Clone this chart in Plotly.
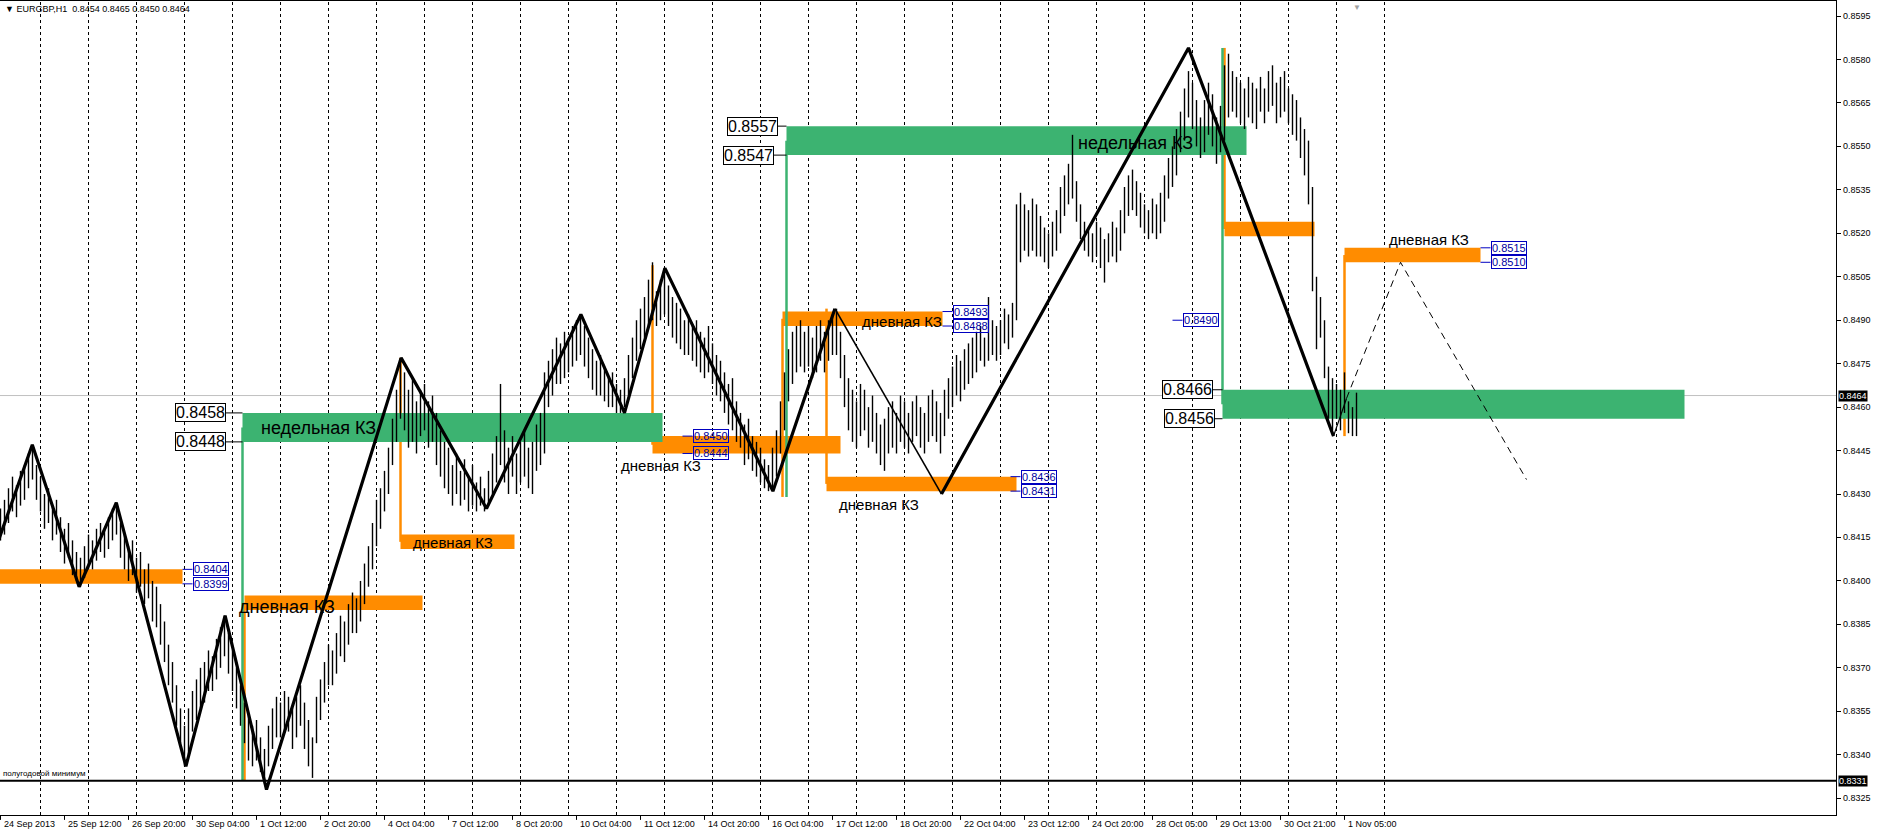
import plotly.graph_objects as go

# ---------------- DATA ----------------
# EURGBP H1, one value pair for every 2nd hourly bar (prices in pips: 8425 -> 0.8425)
BAR_STEP = 2
bar_high_pips = [
    8425, 8428, 8432, 8436, 8433, 8438, 8440, 8444, 8447, 8440,
    8436, 8430, 8432, 8426, 8428, 8422, 8418, 8420, 8414, 8410,
    8408, 8412, 8416, 8414, 8418, 8420, 8418, 8422, 8425, 8427,
    8420, 8416, 8412, 8414, 8408, 8410, 8404, 8406, 8400, 8398,
    8392, 8386, 8378, 8372, 8364, 8356, 8350, 8356, 8362, 8366,
    8370, 8372, 8376, 8374, 8380, 8384, 8388, 8382, 8376, 8370,
    8364, 8358, 8354, 8350, 8352, 8346, 8342, 8350, 8356, 8360,
    8358, 8362, 8360, 8356, 8360, 8364, 8358, 8352, 8346, 8360,
    8366, 8372, 8378, 8376, 8382, 8388, 8386, 8392, 8396, 8394,
    8400, 8406, 8412, 8420, 8428, 8432, 8438, 8446, 8456, 8466,
    8477, 8472, 8466, 8470, 8462, 8466, 8468, 8462, 8464, 8458,
    8452, 8448, 8446, 8440, 8444, 8438, 8442, 8436, 8440, 8434,
    8436, 8432, 8438, 8444, 8450, 8468, 8452, 8446, 8450, 8444,
    8448, 8452, 8446, 8448, 8454, 8458, 8472, 8476, 8480, 8484,
    8482, 8486, 8484, 8488, 8490, 8492, 8488, 8484, 8480, 8476,
    8478, 8474, 8470, 8472, 8468, 8466, 8470, 8478, 8484, 8490,
    8494, 8498, 8504, 8510, 8500, 8504, 8508, 8502, 8498, 8496,
    8494, 8490, 8492, 8488, 8490, 8486, 8484, 8488, 8482, 8478,
    8476, 8472, 8468, 8470, 8462, 8458, 8454, 8456, 8450, 8448,
    8446, 8442, 8440, 8446, 8452, 8462, 8472, 8480, 8486, 8488,
    8490, 8486, 8488, 8484, 8488, 8490, 8486, 8490, 8492, 8494,
    8486, 8478, 8470, 8466, 8462, 8468, 8466, 8460, 8464, 8458,
    8454, 8456, 8460, 8462, 8458, 8464, 8462, 8458, 8462, 8464,
    8460, 8458, 8464, 8466, 8462, 8458, 8466, 8470, 8474, 8478,
    8476, 8480, 8482, 8484, 8486, 8488, 8484, 8498, 8490, 8488,
    8490, 8494, 8492, 8496, 8530, 8534, 8530, 8528, 8532, 8530,
    8526, 8522, 8520, 8524, 8528, 8536, 8540, 8544, 8554, 8538,
    8530, 8524, 8522, 8520, 8524, 8522, 8518, 8520, 8524, 8522,
    8528, 8536, 8540, 8542, 8538, 8534, 8530, 8528, 8532, 8530,
    8534, 8540, 8546, 8550, 8556, 8562, 8570, 8576, 8572, 8566,
    8560, 8566, 8572, 8568, 8560, 8564, 8578, 8582, 8576, 8574,
    8572, 8570, 8574, 8572, 8570, 8574, 8570, 8576, 8578, 8572,
    8574, 8576, 8570, 8568, 8566, 8560, 8556, 8552, 8536, 8505,
    8498, 8490, 8474, 8470, 8468, 8466, 8472, 8462, 8460, 8465,
]
bar_low_pips = [
    8414, 8416, 8420, 8424, 8422, 8426, 8428, 8432, 8435, 8428,
    8424, 8418, 8420, 8414, 8416, 8410, 8406, 8408, 8402, 8400,
    8398, 8401, 8404, 8404, 8407, 8410, 8408, 8411, 8414, 8416,
    8408, 8404, 8400, 8402, 8396, 8398, 8392, 8394, 8386, 8384,
    8378, 8372, 8364, 8358, 8350, 8344, 8336, 8340, 8348, 8352,
    8356, 8358, 8362, 8362, 8366, 8370, 8374, 8368, 8362, 8356,
    8350, 8344, 8338, 8336, 8338, 8334, 8330, 8336, 8342, 8346,
    8346, 8348, 8348, 8342, 8346, 8350, 8342, 8336, 8332, 8344,
    8352, 8358, 8364, 8364, 8368, 8374, 8372, 8378, 8382, 8382,
    8386, 8392, 8398, 8404, 8412, 8418, 8424, 8430, 8440, 8448,
    8456, 8452, 8446, 8448, 8444, 8450, 8452, 8446, 8448, 8440,
    8436, 8432, 8430, 8426, 8430, 8426, 8428, 8424, 8426, 8424,
    8426, 8424, 8426, 8430, 8434, 8440, 8434, 8430, 8436, 8430,
    8434, 8436, 8432, 8430, 8438, 8440, 8444, 8460, 8464, 8468,
    8468, 8470, 8472, 8474, 8476, 8478, 8474, 8470, 8466, 8464,
    8464, 8462, 8460, 8460, 8458, 8458, 8460, 8464, 8470, 8476,
    8480, 8484, 8488, 8490, 8488, 8490, 8492, 8488, 8484, 8482,
    8480, 8478, 8478, 8476, 8474, 8472, 8470, 8472, 8468, 8464,
    8462, 8458, 8454, 8452, 8448, 8446, 8440, 8442, 8438, 8436,
    8434, 8432, 8431, 8431, 8436, 8444, 8452, 8462, 8468, 8472,
    8474, 8472, 8474, 8470, 8472, 8476, 8472, 8476, 8478, 8478,
    8470, 8460, 8452, 8448, 8446, 8450, 8452, 8446, 8448, 8444,
    8440, 8438, 8444, 8446, 8444, 8448, 8446, 8444, 8448, 8450,
    8446, 8444, 8448, 8450, 8448, 8444, 8450, 8456, 8460, 8464,
    8462, 8466, 8468, 8470, 8472, 8476, 8474, 8476, 8478, 8476,
    8478, 8482, 8480, 8484, 8490, 8510, 8514, 8512, 8514, 8512,
    8512, 8510, 8508, 8512, 8514, 8520, 8526, 8530, 8532, 8524,
    8518, 8514, 8512, 8510, 8512, 8508, 8503, 8510, 8512, 8510,
    8514, 8520, 8526, 8528, 8526, 8522, 8520, 8518, 8520, 8518,
    8520, 8524, 8532, 8536, 8540, 8548, 8552, 8560, 8556, 8550,
    8546, 8548, 8554, 8550, 8544, 8548, 8552, 8560, 8562, 8560,
    8558, 8556, 8560, 8558, 8556, 8562, 8558, 8562, 8564, 8558,
    8560, 8562, 8558, 8554, 8552, 8546, 8540, 8530, 8500, 8480,
    8484, 8470, 8456, 8452, 8456, 8452, 8458, 8451, 8450, 8450,
]

# time axis labels (one every 32 hourly bars)
x_tick_labels = ["24 Sep 2013", "25 Sep 12:00", "26 Sep 20:00", "30 Sep 04:00", "1 Oct 12:00",
                 "2 Oct 20:00", "4 Oct 04:00", "7 Oct 12:00", "8 Oct 20:00", "10 Oct 04:00",
                 "11 Oct 12:00", "14 Oct 20:00", "16 Oct 04:00", "17 Oct 12:00", "18 Oct 20:00",
                 "22 Oct 04:00", "23 Oct 12:00", "24 Oct 20:00", "28 Oct 05:00", "29 Oct 13:00",
                 "30 Oct 21:00", "1 Nov 05:00"]
price_tick_values = [0.8325, 0.8340, 0.8355, 0.8370, 0.8385, 0.8400, 0.8415, 0.8430, 0.8445, 0.8460,
                     0.8475, 0.8490, 0.8505, 0.8520, 0.8535, 0.8550, 0.8565, 0.8580, 0.8595]

# zigzag swing points (bar index, price)
zz_bar = [-1, 15.9, 39.3, 57.9, 92.7, 112.3, 133, 200.3, 243, 290.2, 312, 332.2, 386.2, 417.2,
          470.5, 594, 666.5, 673, 700, 763]
zz_price = [0.8414, 0.8447, 0.8398, 0.8427, 0.8336, 0.8388, 0.8328, 0.8477, 0.8425, 0.8492,
            0.8458, 0.8508, 0.8431, 0.8494, 0.8430, 0.8584, 0.8450, 0.8463, 0.8510, 0.8435]

# weekly zones (недельная КЗ)
wk_start = [121, 393, 611]
wk_end = [331, 623, 842]
wk_top = [0.8458, 0.8557, 0.8466]
wk_bot = [0.8448, 0.8547, 0.8456]
wk_origin = [0.8331, 0.8429, 0.8584]

# daily zones (дневная КЗ)
d_start = [-2, 122, 200, 326, 391, 413, 612, 672]
d_end = [91, 211, 257, 420, 471, 508, 657, 740]
d_top = [0.8404, 0.8395, 0.8416, 0.8450, 0.8493, 0.8436, 0.8524, 0.8515]
d_bot = [0.8399, 0.8390, 0.8411, 0.8444, 0.8488, 0.8431, 0.8519, 0.8510]
d_origin = [None, 0.8331, 0.8477, 0.8509, 0.8429, 0.8494, 0.8584, 0.8450]

# blue price tags
blue_price = [0.8404, 0.8399, 0.8450, 0.8444, 0.8493, 0.8488, 0.8436, 0.8431, 0.8490, 0.8515, 0.8510]
blue_bar = [91, 91, 341, 341, 471, 471, 505, 505, 586, 740, 740]

half_year_min = 0.8331
last_price = 0.8464
title_text = "EURGBP,H1  0.8454 0.8465 0.8450 0.8464"

# ---------------- FIGURE ----------------
GREEN = "rgb(60,179,113)"
ORANGE = "rgb(255,140,0)"
FONT = "Arial, Liberation Sans, sans-serif"
PX = 0.5  # bar units per screen pixel

fig = go.Figure()

bx, by = [], []
for k, (h, l) in enumerate(zip(bar_high_pips, bar_low_pips)):
    i = k * BAR_STEP
    bx += [i, i, None]
    by += [l / 10000, h / 10000, None]
fig.add_trace(go.Scatter(x=bx, y=by, mode="lines", line=dict(color="black", width=1.4),
                         hoverinfo="skip", showlegend=False))

def zz(a, b, width, dash="solid"):
    fig.add_trace(go.Scatter(x=zz_bar[a:b + 1], y=zz_price[a:b + 1], mode="lines",
                             line=dict(color="black", width=width, dash=dash),
                             hoverinfo="skip", showlegend=False))

zz(0, 13, 3.2)
zz(13, 14, 1.6)
zz(14, 16, 3.2)
zz(16, 17, 1.2)
zz(17, 19, 1, "7px,5px")

shapes = []
# current bid line
shapes.append(dict(type="line", xref="paper", yref="y", x0=0, x1=1, y0=last_price, y1=last_price,
                   line=dict(color="#C0C0C0", width=1), layer="below"))
# daily zones
for s, e, t, b, o in zip(d_start, d_end, d_top, d_bot, d_origin):
    shapes.append(dict(type="rect", xref="x", yref="y", x0=s, x1=e, y0=b, y1=t,
                       fillcolor=ORANGE, line=dict(width=0), layer="below"))
    if o is not None:
        shapes.append(dict(type="line", xref="x", yref="y", x0=s, x1=s, y0=(t + b) / 2, y1=o,
                           line=dict(color=ORANGE, width=2.5), layer="below"))
# weekly zones
for s, e, t, b, o in zip(wk_start, wk_end, wk_top, wk_bot, wk_origin):
    shapes.append(dict(type="rect", xref="x", yref="y", x0=s, x1=e, y0=b, y1=t,
                       fillcolor=GREEN, line=dict(width=0), layer="below"))
    shapes.append(dict(type="line", xref="x", yref="y", x0=s, x1=s, y0=(t + b) / 2, y1=o,
                       line=dict(color=GREEN, width=2.5), layer="below"))
# vertical dashed grid (daily)
for k in range(29):
    gx = 20 + 24 * k
    shapes.append(dict(type="line", xref="x", yref="paper", x0=gx, x1=gx, y0=0, y1=1,
                       line=dict(color="black", width=1, dash="3px,3px"), layer="below"))
# half-year minimum line
shapes.append(dict(type="line", xref="paper", yref="y", x0=0, x1=1, y0=half_year_min, y1=half_year_min,
                   line=dict(color="black", width=2)))
# x tick marks
for k in range(len(x_tick_labels)):
    shapes.append(dict(type="line", xref="x", yref="paper", x0=32 * k, x1=32 * k, y0=0, y1=-0.006,
                       line=dict(color="black", width=1)))

annotations = []
# title
annotations.append(dict(xref="paper", yref="paper", x=0, y=1, xanchor="left", yanchor="top",
                        text="▼ " + title_text, showarrow=False, xshift=3, yshift=-1,
                        font=dict(family=FONT, size=9, color="black")))
annotations.append(dict(xref="x", yref="paper", x=678, y=1, xanchor="center", yanchor="top",
                        text="▼", showarrow=False, yshift=0,
                        font=dict(family=FONT, size=8, color="#A0A0A0")))
# x tick labels
for k, lab in enumerate(x_tick_labels):
    annotations.append(dict(xref="x", yref="paper", x=32 * k, y=-0.011, xanchor="left", yanchor="middle",
                            text=lab, showarrow=False, xshift=1,
                            font=dict(family=FONT, size=9, color="black")))
# y tick labels (right price scale)
for v in price_tick_values:
    annotations.append(dict(xref="paper", yref="y", x=1, y=v, xanchor="left", yanchor="middle",
                            text=f"{v:.4f}", showarrow=False, xshift=5,
                            font=dict(family=FONT, size=9, color="black")))
# half-year minimum caption
annotations.append(dict(xref="paper", yref="y", x=0, y=half_year_min, xanchor="left", yanchor="bottom",
                        text="полугодовой минимум", showarrow=False, xshift=1, yshift=1,
                        font=dict(family=FONT, size=8, color="black")))
# right-axis tags
for val in (last_price, half_year_min):
    annotations.append(dict(xref="paper", yref="y", x=1, y=val, xanchor="left", yanchor="middle",
                            text=f"{val:.4f}", showarrow=False, xshift=2, bgcolor="black", borderpad=0,
                            font=dict(family=FONT, size=9, color="white")))
# big black price labels of weekly zones
big_shift = [17, 17, 9, 13, 10, 8]
k = 0
for s, t, b in zip(wk_start, wk_top, wk_bot):
    for val in (t, b):
        sh = big_shift[k]
        k += 1
        shapes.append(dict(type="line", xref="x", yref="y", x0=s - sh * PX, x1=s, y0=val, y1=val,
                           line=dict(color="black", width=1)))
        annotations.append(dict(xref="x", yref="y", x=s - sh * PX, y=val, xanchor="right", yanchor="middle",
                                text=f"{val:.4f}", showarrow=False, bgcolor="white",
                                bordercolor="black", borderwidth=1, borderpad=0,
                                font=dict(family=FONT, size=16, color="black")))
# blue price tags
for bb, val in zip(blue_bar, blue_price):
    shapes.append(dict(type="line", xref="x", yref="y", x0=bb, x1=bb + 10 * PX, y0=val, y1=val,
                       line=dict(color="#0000C0", width=1)))
    annotations.append(dict(xref="x", yref="y", x=bb + 10 * PX, y=val, xanchor="left", yanchor="middle",
                            text=f"{val:.4f}", showarrow=False, bordercolor="#0000C0", borderwidth=1,
                            borderpad=0, font=dict(family=FONT, size=11, color="#0000A0")))
# zone captions
cap_text = ["недельная КЗ", "недельная КЗ", "дневная КЗ", "дневная КЗ", "дневная КЗ",
            "дневная КЗ", "дневная КЗ", "дневная КЗ"]
cap_x = [129.25, 537.75, 118.25, 205.25, 309.25, 429.75, 418.25, 693.25]
cap_y = [0.84528, 0.85512, 0.8391, 0.84131, 0.8440, 0.84897, 0.84265, 0.85177]
cap_size = [18, 18, 18, 15, 15, 15, 15, 15]
for t, x, y, s in zip(cap_text, cap_x, cap_y, cap_size):
    annotations.append(dict(xref="x", yref="y", x=x, y=y, xanchor="left", yanchor="middle", text=t,
                            showarrow=False, font=dict(family=FONT, size=s, color="black")))

fig.update_layout(
    width=1878, height=837,
    margin=dict(l=0, r=42, t=1, b=22, pad=0, autoexpand=False),
    plot_bgcolor="white", paper_bgcolor="white",
    showlegend=False,
    shapes=shapes, annotations=annotations,
    xaxis=dict(range=[-0.25, 917.75], showgrid=False, zeroline=False, showticklabels=False,
               ticks="", showline=True, linecolor="black", linewidth=1, mirror=True, fixedrange=True,
               automargin=False),
    yaxis=dict(range=[0.83192, 0.86002], side="right", showgrid=False, zeroline=False,
               tickvals=price_tick_values, showticklabels=False,
               ticks="outside", ticklen=4, tickcolor="black", showline=True, linecolor="black",
               linewidth=1, fixedrange=True, automargin=False),
)

fig.write_html("out.html", config={"displayModeBar": False},
               post_script="document.body.style.margin='0px';document.body.style.overflow='hidden';")
